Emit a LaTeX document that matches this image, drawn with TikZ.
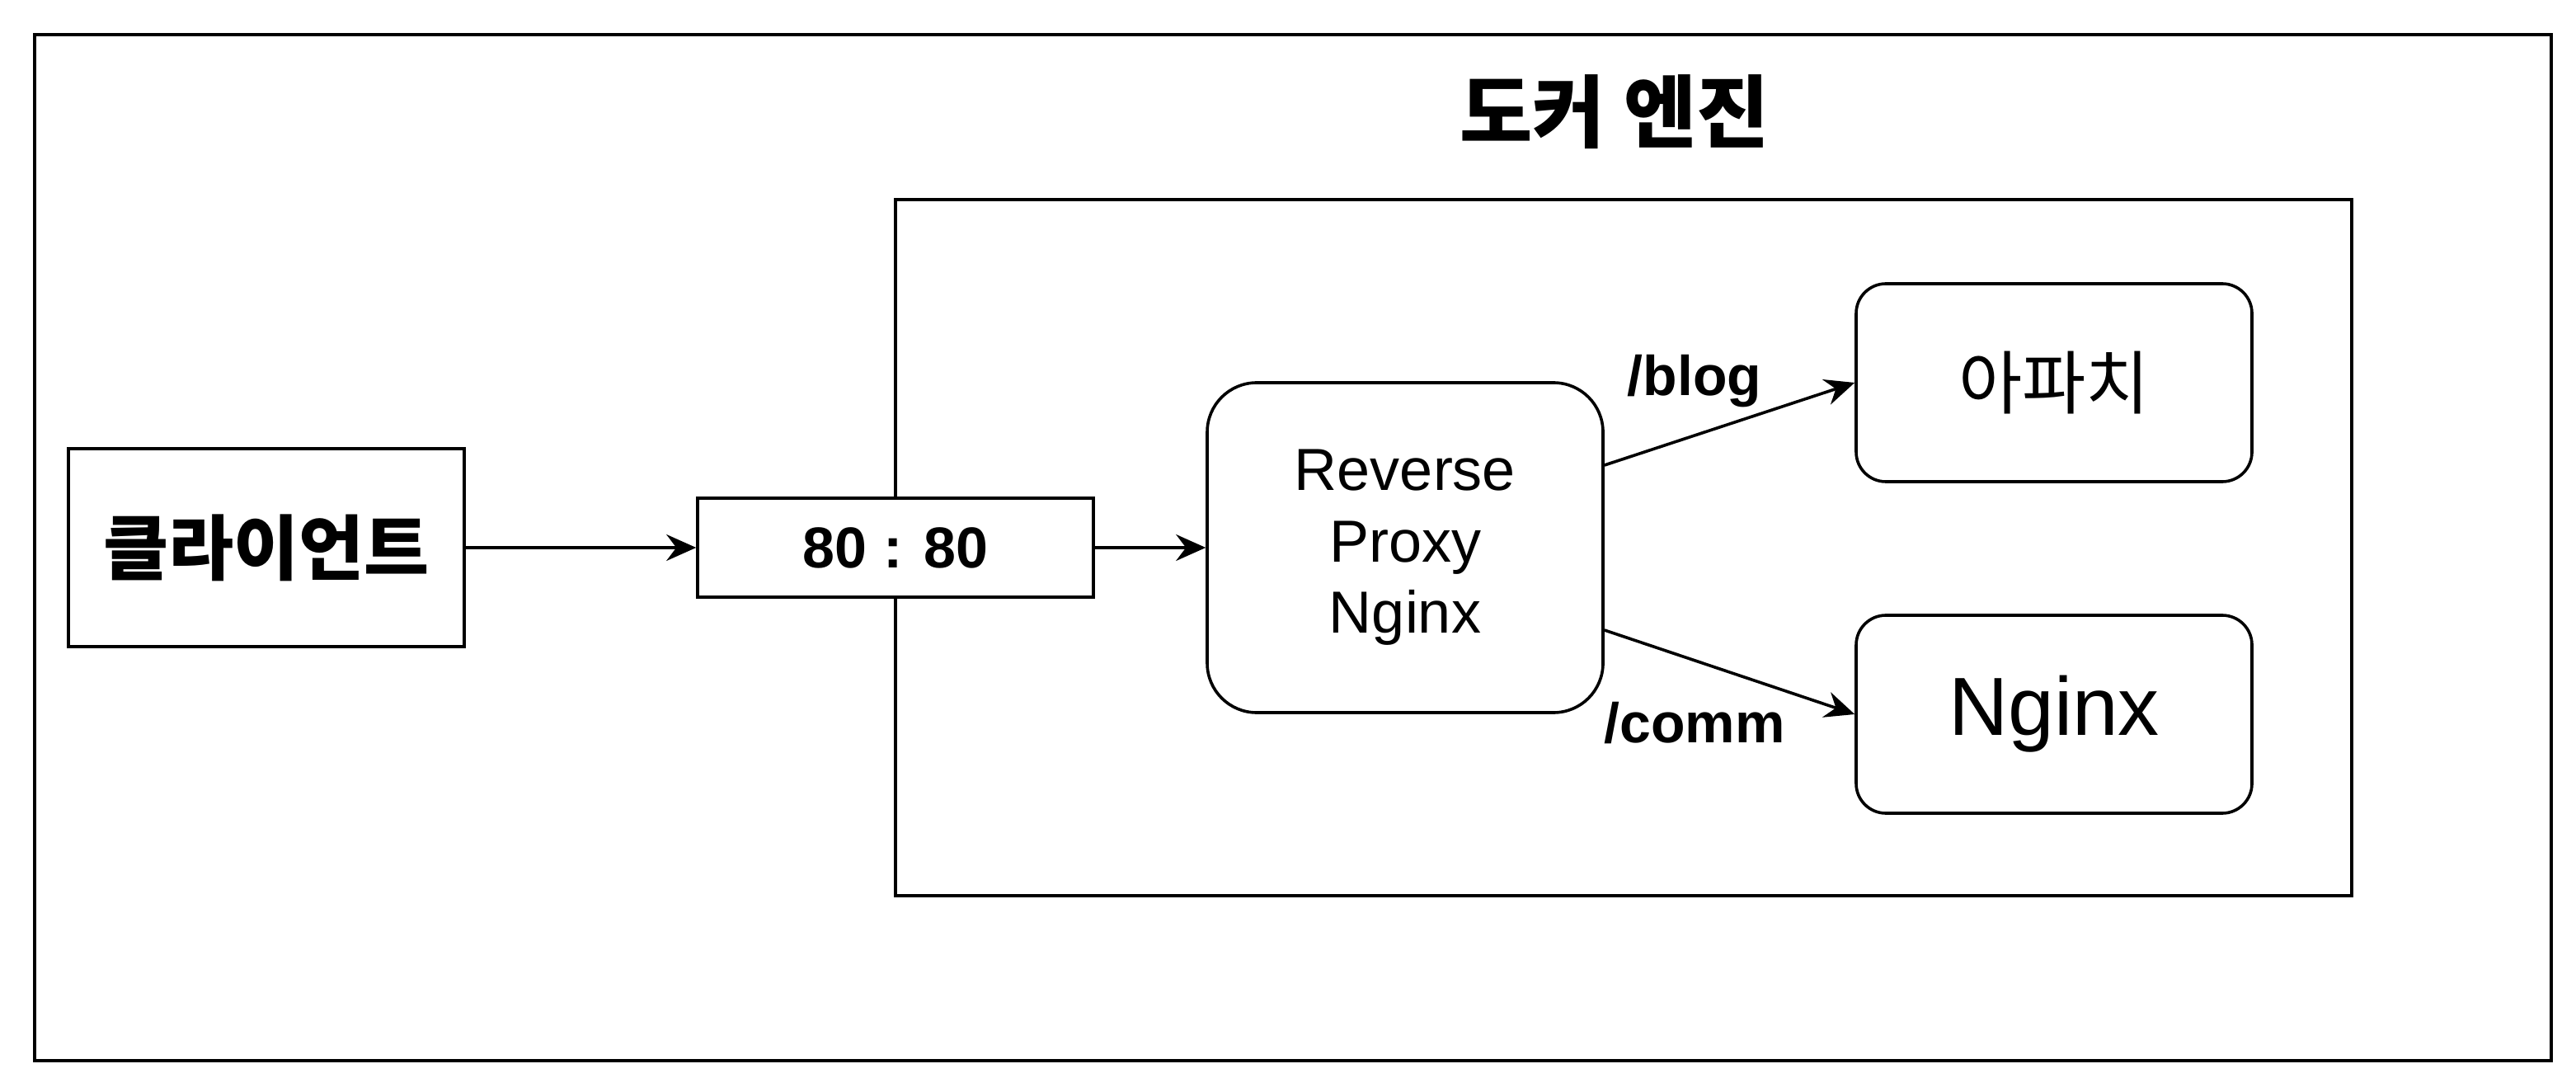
\documentclass[tikz,border=0pt]{standalone}
\usepackage{fontspec}
\setmainfont{Liberation Sans}
\newfontfamily\kr{Noto Sans CJK KR}
\usepackage{tikz}
\usetikzlibrary{arrows.meta}

\begin{document}
\begin{tikzpicture}[x=1pt,y=-1pt,line width=0.9pt,
    box/.style={draw, inner sep=0pt, fill=white, minimum width=120pt},
    roundbox/.style={box, rounded corners=9pt},
    link/.style={-{Stealth[length=9pt,width=8pt,inset=3pt]}},
    path/.style={font=\fontsize{17}{20}\selectfont\bfseries, inner sep=0pt, anchor=base}]

                \useasboundingbox (0,0) rectangle (781,331);
                \draw (10.5,10.5) rectangle (773.5,321.5);

                % docker engine
                \node [draw, inner sep=0pt, minimum width=441.5pt, minimum height=211pt] (engine) at (492.25,166) {};
                \node [font=\kr\fontsize{24}{28}\selectfont\bfseries, inner sep=0pt] (title) at (489.5,34) {도커 엔진};

                \node [box, minimum height=60pt, font=\kr\fontsize{21.5}{25}\selectfont\bfseries] (client) at (80.75,166) {클라이언트};
                \node [box, minimum height=30pt, font=\fontsize{17.5}{21}\selectfont\bfseries] (port) at (271.5,166) {80 : 80};
                \node [roundbox, rounded corners=15pt, minimum height=100pt, align=center, font=\fontsize{18}{21.6}\selectfont] (proxy) at (426,166) {Reverse\\Proxy\\Nginx};
                \node [roundbox, minimum height=60pt, font=\kr\fontsize{21}{25}\selectfont] (apache) at (622.75,116) {아파치};
                \node [roundbox, minimum height=60pt, font=\fontsize{25}{30}\selectfont] (nginx) at (622.75,216.5) {Nginx};

                \draw [link] (client) -- (port);
                \draw [link] (port) -- (proxy);
                \draw [link] ([yshift=25pt]proxy.east) -- (apache.west);
                \draw [link] ([yshift=-25pt]proxy.east) -- (nginx.west);

                \node [path] (blog) at (513.75,120) {/blog};
                \node [path] (comm) at (513.75,225) {/comm};

            \end{tikzpicture}
\end{document}
